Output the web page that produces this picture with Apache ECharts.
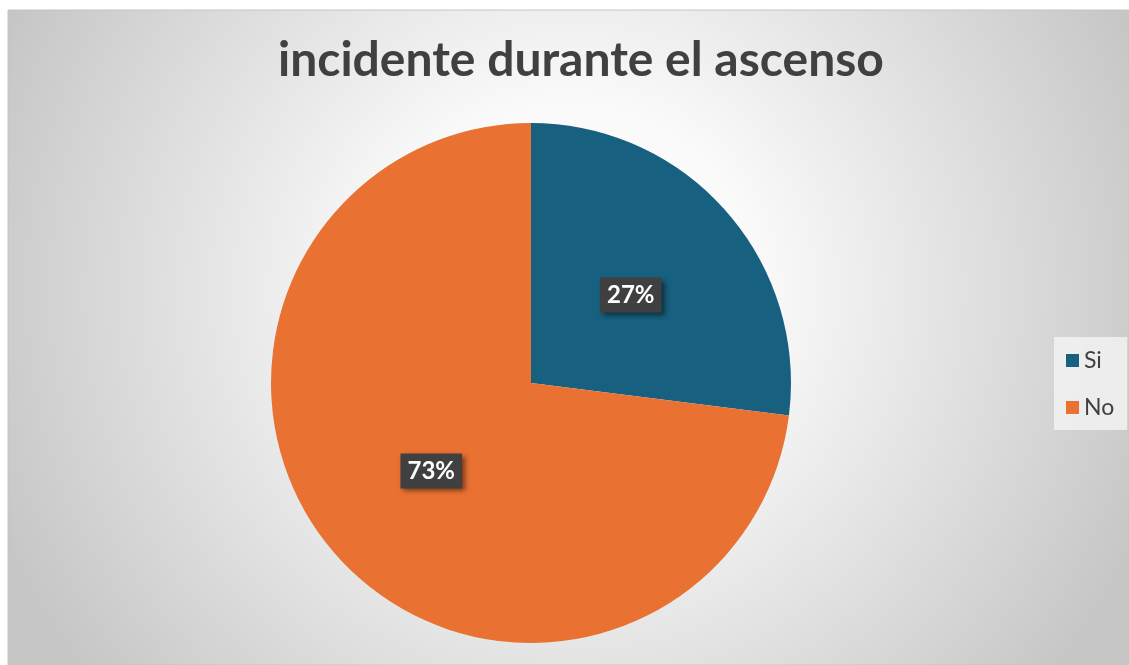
<!DOCTYPE html>
<html>
<head>
<meta charset="utf-8">
<script src="https://cdn.jsdelivr.net/npm/echarts@6/dist/echarts.min.js"></script>
<style>
  html, body { margin: 0; padding: 0; background: #ffffff; }
  #chart { width: 1129px; height: 665px; }
</style>
</head>
<body>
<div id="chart"></div>
<script>
const categories = ['Si', 'No'];
const values = [27, 73];
const colors = ['#17607F', '#E97132'];

const chartDom = document.getElementById('chart');
const myChart = echarts.init(chartDom);

const option = {
    animation: false,
    graphic: [
        {
            type: 'rect',
            z: -10,
            shape: { x: 8, y: 10, width: 1121, height: 655 },
            style: {
                fill: {
                    type: 'radial',
                    global: true,
                    x: 570, y: 290, r: 620,
                    colorStops: [
                        { offset: 0, color: '#ffffff' },
                        { offset: 0.3, color: '#fafafa' },
                        { offset: 1, color: '#c6c6c6' }
                    ]
                },
                stroke: '#c4c4c4',
                lineWidth: 1
            }
        }
    ],
    title: {
        text: 'incidente durante el ascenso',
        left: 273,
        top: 32,
        textStyle: {
            fontFamily: 'Lato',
            fontWeight: 'bold',
            fontSize: 48,
            color: '#404040'
        }
    },
    legend: {
        orient: 'vertical',
        left: 1054,
        top: 337,
        data: categories,
        icon: 'rect',
        itemWidth: 13,
        itemHeight: 13,
        itemGap: 24,
        padding: [12, 13, 11, 12],
        backgroundColor: 'rgba(242,242,242,0.85)',
        textStyle: {
            fontFamily: 'Lato',
            fontSize: 23,
            color: '#404040'
        }
    },
    series: [
        {
            type: 'pie',
            center: [531, 383],
            radius: [0, 260],
            startAngle: 90,
            clockwise: true,
            color: colors,
            data: categories.map((name, i) => ({ name, value: values[i] })),
            label: {
                show: true,
                position: 'inside',
                formatter: '{d}%',
                color: '#ffffff',
                fontFamily: 'Lato',
                fontWeight: 'bold',
                fontSize: 24,
                backgroundColor: '#404040',
                padding: [6, 7, 5, 7],
                shadowColor: 'rgba(0,0,0,0.5)',
                shadowBlur: 5,
                shadowOffsetX: 3,
                shadowOffsetY: 3
            },
            labelLine: { show: false }
        }
    ]
};

option && myChart.setOption(option);
</script>
</body>
</html>
